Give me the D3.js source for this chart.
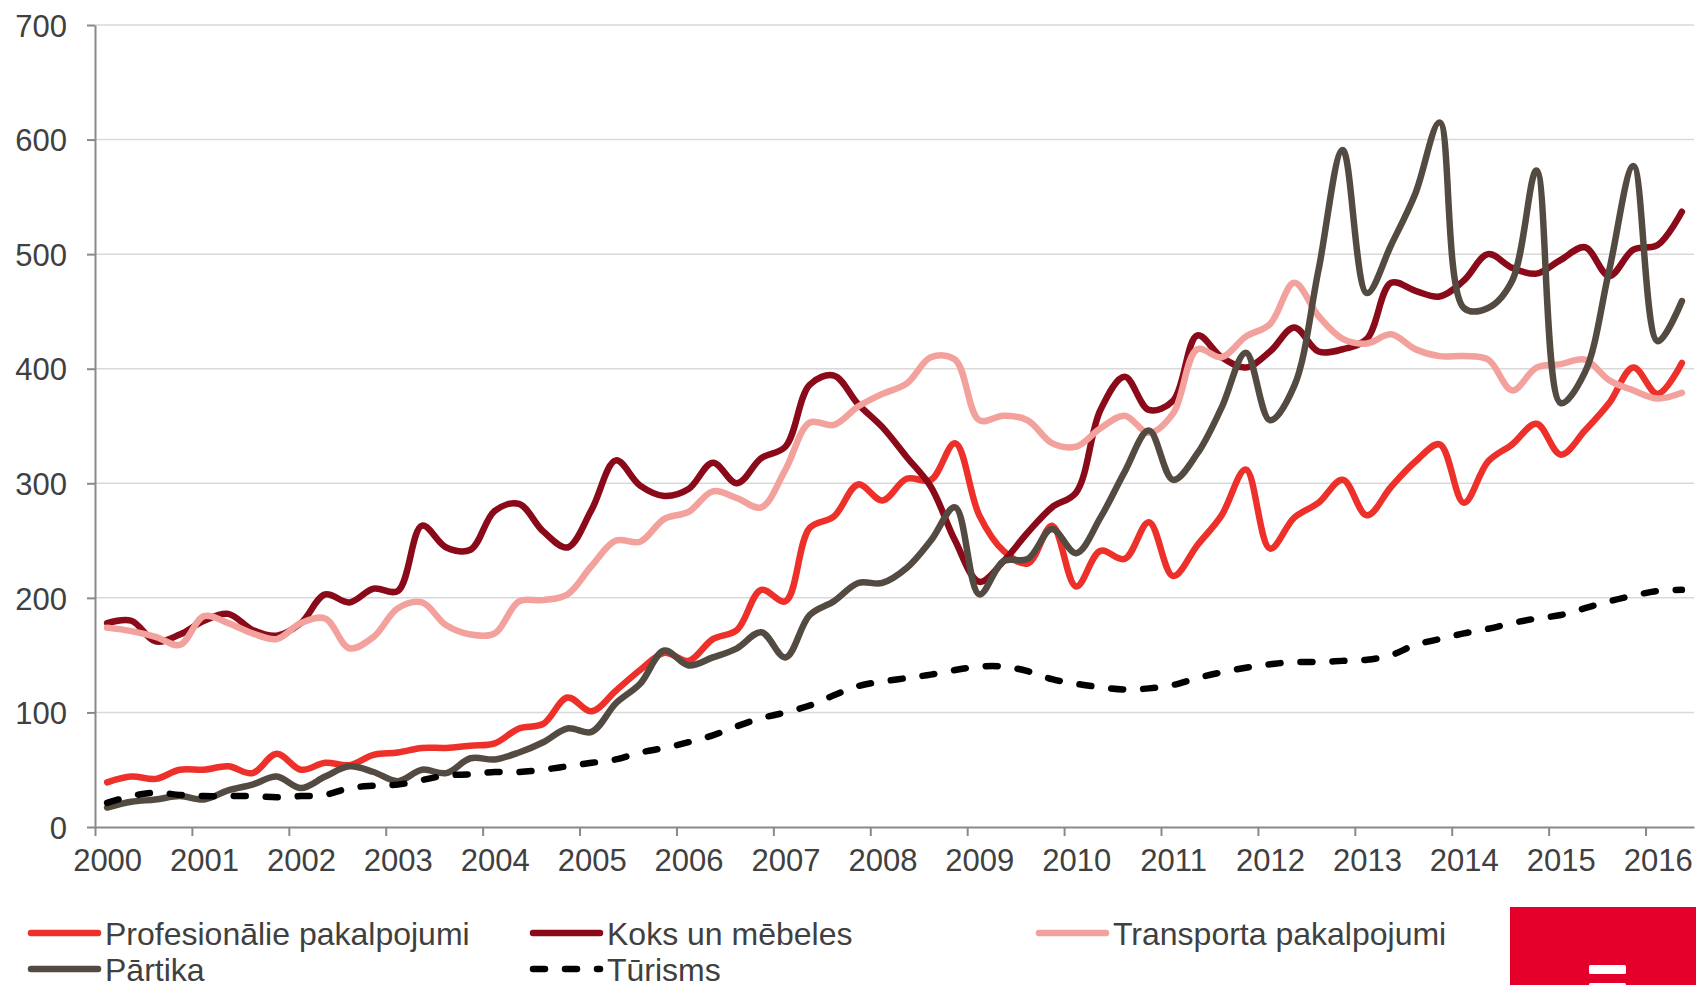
<!DOCTYPE html>
<html>

<head>
    <meta charset="utf-8">
    <style>
        body {
            margin: 0;
            background: #fff;
        }

        .axis text {
            font: 31px "Liberation Sans", Arial, sans-serif;
            fill: #404040;
        }

        .axis path,
        .axis line {
            stroke: #898989;
            stroke-width: 2px;
        }

        .grid line {
            stroke: #d9d9d9;
            stroke-width: 1.5px;
        }

        .legend text {
            font: 32px "Liberation Sans", Arial, sans-serif;
            fill: #404040;
        }
    </style>
    <script src="https://d3js.org/d3.v7.min.js"></script>
</head>

<body>
    <svg width="1696" height="985"></svg>
    <script>
        // quarterly data, 2000 Q1 .. 2016 Q2
        var years = [2000, 2001, 2002, 2003, 2004, 2005, 2006, 2007, 2008, 2009, 2010, 2011, 2012, 2013, 2014, 2015, 2016];
        var yTicks = [0, 100, 200, 300, 400, 500, 600, 700];

        var profesionalie = [39, 44, 42, 50, 50, 53, 47, 64, 50, 56, 54, 63, 65, 69, 69, 71, 73,
            86, 90, 113, 101, 119, 137, 152, 145, 164, 172, 207, 197, 261, 271, 299, 285, 304,
            303, 335, 272, 241, 230, 263, 210, 241, 234, 266, 219, 246, 272, 312, 243, 270,
            283, 303, 272, 297, 319, 334, 283, 319, 334, 352, 325, 346, 370, 401, 378, 405];
        var koks = [178, 180, 162, 168, 180, 186, 172, 167, 178, 203, 196, 208, 206, 263, 244, 242, 276,
            282, 258, 244, 277, 320, 298, 289, 295, 318, 300, 322, 332, 386, 394, 369, 349, 323,
            297, 250, 214, 232, 257, 279, 292, 364, 393, 364, 372, 429, 410, 401, 415, 436,
            415, 417, 426, 475, 468, 463, 477, 500, 488, 483, 495, 506, 481, 504, 508, 537];
        var transporta = [174, 171, 166, 159, 184, 178, 169, 164, 178, 182, 156, 166, 191, 196, 176, 168, 169,
            197, 198, 203, 228, 250, 249, 269, 275, 293, 287, 279, 312, 353, 351, 367, 378, 387,
            410, 408, 355, 359, 355, 335, 332, 348, 359, 344, 361, 417, 410, 428, 439, 475,
            446, 426, 422, 430, 417, 411, 411, 408, 381, 401, 404, 408, 390, 381, 374, 379];
        var partika = [17, 22, 24, 27, 24, 32, 37, 44, 34, 44, 53, 48, 40, 50, 47, 60, 59,
            65, 74, 86, 83, 108, 125, 154, 141, 148, 156, 170, 148, 185, 197, 213, 213, 226,
            250, 279, 203, 232, 234, 260, 239, 270, 310, 346, 303, 326, 366, 414, 355, 385,
            486, 591, 466, 508, 553, 615, 453, 453, 477, 573, 370, 397, 486, 577, 424, 459];
        var turisms = [21, 27, 30, 28, 27, 27, 27, 26, 27, 28, 34, 36, 37, 41, 45, 46, 48,
            48, 50, 53, 56, 59, 65, 69, 74, 80, 88, 95, 100, 106, 115, 123, 127, 130,
            133, 137, 140, 140, 136, 129, 125, 122, 120, 121, 124, 130, 135, 139, 142, 144,
            144, 145, 146, 150, 159, 164, 169, 173, 178, 182, 185, 191, 197, 202, 206, 207];

        var seriesNames = ["Profesionālie pakalpojumi", "Koks un mēbeles", "Transporta pakalpojumi", "Pārtika", "Tūrisms"];
        var seriesValues = [profesionalie, koks, transporta, partika, turisms];
        var colors = ["#ee302b", "#8a0a1a", "#f3a19d", "#534b41", "#000000"];

        var svg = d3.select("svg");
        var plotLeft = 95, plotRight = 1694, plotTop = 25, plotBottom = 827;
        var nQuarters = profesionalie.length;
        var lineWidth = 6.5;

        var x = d3.scaleLinear().domain([0, nQuarters]).range([plotLeft, plotRight]);
        var y = d3.scaleLinear().domain([0, 700]).range([plotBottom, plotTop]);

        // gridlines
        svg.append("g")
            .attr("class", "grid")
            .selectAll("line")
            .data(yTicks.slice(1))
            .enter().append("line")
            .attr("x1", plotLeft)
            .attr("x2", plotRight)
            .attr("y1", function (d) { return y(d); })
            .attr("y2", function (d) { return y(d); });

        // y axis
        var yAxis = svg.append("g")
            .attr("class", "axis")
            .attr("transform", "translate(" + plotLeft + ",0)")
            .call(d3.axisLeft(y).tickValues(yTicks).tickSize(8).tickPadding(20).tickSizeOuter(0));
        yAxis.selectAll("text").attr("dy", "0.36em");

        // x axis, one tick per year, label centred on the first quarter
        var xAxis = svg.append("g")
            .attr("class", "axis")
            .attr("transform", "translate(0," + plotBottom + ")")
            .call(d3.axisBottom(x)
                .tickValues(years.map(function (d, i) { return i * 4; }))
                .tickFormat(function (d, i) { return years[i]; })
                .tickSize(9)
                .tickPadding(13)
                .tickSizeOuter(0));
        xAxis.selectAll("text").attr("dx", x(0.5) - x(0));

        var line = d3.line()
            .x(function (d, i) { return x(i + 0.5); })
            .y(function (d) { return y(d); })
            .curve(d3.curveCatmullRom);

        svg.append("g")
            .selectAll("path")
            .data(seriesValues)
            .enter().append("path")
            .attr("d", line)
            .attr("fill", "none")
            .attr("stroke", function (d, i) { return colors[i]; })
            .attr("stroke-width", lineWidth)
            .attr("stroke-linecap", "round")
            .attr("stroke-linejoin", "round")
            .attr("stroke-dasharray", function (d, i) { return i == 4 ? "12 20" : null; });

        // legend
        var legendPos = [[28, 933], [530, 933], [1036, 933], [28, 969], [530, 969]];
        var legend = svg.selectAll(".legend")
            .data(seriesNames)
            .enter().append("g")
            .attr("class", "legend")
            .attr("transform", function (d, i) { return "translate(" + legendPos[i][0] + "," + legendPos[i][1] + ")"; });

        legend.append("line")
            .attr("x1", 3)
            .attr("x2", 70)
            .attr("stroke", function (d, i) { return colors[i]; })
            .attr("stroke-width", lineWidth)
            .attr("stroke-linecap", "round")
            .attr("stroke-dasharray", function (d, i) { return i == 4 ? "12 20" : null; });

        legend.append("text")
            .attr("x", 77)
            .attr("dy", "0.36em")
            .text(function (d) { return d; });

        // logo block, bottom right
        svg.append("rect")
            .attr("x", 1510).attr("y", 907)
            .attr("width", 186).attr("height", 78)
            .attr("fill", "#e4002b");
        svg.append("rect")
            .attr("x", 1589).attr("y", 965)
            .attr("width", 37).attr("height", 9)
            .attr("rx", 1.5)
            .attr("fill", "#fff");
        svg.append("rect")
            .attr("x", 1589).attr("y", 983)
            .attr("width", 37).attr("height", 4)
            .attr("rx", 1.5)
            .attr("fill", "#fff");
    </script>
</body>

</html>
